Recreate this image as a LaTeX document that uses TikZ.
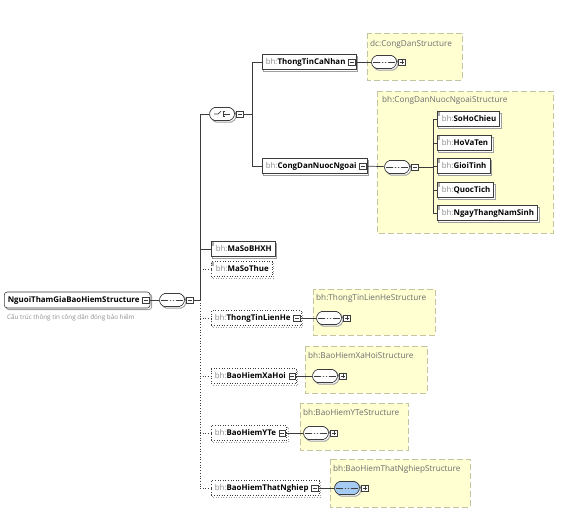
\documentclass[tikz,border=0pt]{standalone}
\usepackage{fontspec}
\setmainfont{Open Sans}
\usetikzlibrary{positioning,shadows,shapes.misc}

\definecolor{typefill}{HTML}{FFFFD2}
\definecolor{typeline}{HTML}{C4C4A0}
\definecolor{pfxgray}{HTML}{8C8C8C}
\definecolor{labelgray}{HTML}{6E6E6E}
\definecolor{wire}{HTML}{3C3C3C}
\definecolor{seqblue}{HTML}{A6CBF2}

\newcommand{\ename}[1]{\textcolor{pfxgray}{bh:}\textbf{#1}}

\tikzset{
  wire/.style={draw=wire, line width=0.7pt},
  boxshadow/.style={general shadow={shadow xshift=1.6pt, shadow yshift=-1.6pt, draw=gray!75, fill=white, line width=0.9pt}},
  elem/.style={draw=wire, fill=white, line width=0.6pt, boxshadow, anchor=west,
    font=\fontsize{7.9}{9}\selectfont, inner xsep=3.5pt, inner ysep=0pt,
    text height=6.2pt, text depth=1.7pt, minimum height=15pt},
  optelem/.style={elem, dotted},
  xelem/.style={elem, execute at end node={\hspace{7pt}}},
  optxelem/.style={xelem, dotted},
  leaf/.style={elem, execute at begin node={\hspace{1pt}},
    path picture={\fill[gray!65] (path picture bounding box.north west) rectangle ++(3pt,-4pt);}},
  optleaf/.style={leaf, dotted},
  rootbox/.style={elem, rounded corners=3pt, minimum height=16pt, execute at end node={\hspace{7pt}}},
  caption/.style={anchor=west, text=pfxgray, font=\fontsize{6.3}{7}\selectfont, inner sep=0pt},
  typebox/.style={draw=typeline, fill=typefill, line width=0.9pt, dash pattern=on 6pt off 3pt},
  typelabel/.style={anchor=west, text=labelgray, font=\fontsize{8.2}{9}\selectfont, inner sep=0pt},
  compo/.style={rounded rectangle, rounded rectangle arc length=150, draw=wire, fill=white, line width=0.7pt, boxshadow,
    minimum width=25pt, minimum height=13pt, inner sep=0pt},
  seqbox/.style={compo,
    path picture={
      \draw[line width=0.8pt] ([xshift=2.5pt]path picture bounding box.west) -- ([xshift=-2.5pt]path picture bounding box.east);
      \foreach \d in {-3,0,3} \fill ([xshift=\d pt]path picture bounding box.center) circle (1.25pt);}},
  chcbox/.style={compo,
    path picture={
      \coordinate (cc) at (path picture bounding box.center);
      \draw[line width=0.7pt] ([xshift=-8pt]cc) -- ([xshift=-4pt]cc) -- ([xshift=-1pt,yshift=2.8pt]cc);
      \draw[line width=0.6pt] ([xshift=0.8pt,yshift=3.2pt]cc) -- ([xshift=0.8pt,yshift=-3.2pt]cc);
      \foreach \d in {-2.6,0,2.6} \draw[line width=0.6pt] ([xshift=0.8pt,yshift=\d pt]cc) -- ++(2.6pt,0);
      \draw[line width=0.7pt] ([xshift=3.4pt]cc) -- ([xshift=8pt]cc);}},
  tgl/.style={draw=wire, fill=white, line width=0.5pt, minimum size=6.5pt, inner sep=0pt},
  mbox/.style={tgl, path picture={\draw[line width=0.5pt] ([xshift=1.3pt]path picture bounding box.west) -- ([xshift=-1.3pt]path picture bounding box.east);}},
  pbox/.style={tgl, path picture={
      \draw[line width=0.5pt] ([xshift=1.3pt]path picture bounding box.west) -- ([xshift=-1.3pt]path picture bounding box.east);
      \draw[line width=0.5pt] ([yshift=-1.3pt]path picture bounding box.north) -- ([yshift=1.3pt]path picture bounding box.south);}}
}

\begin{document}
\begin{tikzpicture}[x=1pt, y=-1pt]
  \useasboundingbox (0,0) rectangle (564,531);

  % complex type boxes
  \draw[typebox] (367,33) rectangle (462,80);
  \node[typelabel] (tCongDan) at (370,44) {dc:CongDanStructure};
  \draw[typebox] (377,91) rectangle (553,233);
  \node[typelabel] (tNuocNgoai) at (382,100) {bh:CongDanNuocNgoaiStructure};
  \draw[typebox] (313,289) rectangle (435,335);
  \node[typelabel] (tLienHe) at (316,298) {bh:ThongTinLienHeStructure};
  \draw[typebox] (305,346) rectangle (427,393);
  \node[typelabel] (tXaHoi) at (308,355) {bh:BaoHiemXaHoiStructure};
  \draw[typebox] (300,403) rectangle (408,450);
  \node[typelabel] (tYTe) at (303,412) {bh:BaoHiemYTeStructure};
  \draw[typebox] (330,459) rectangle (470,507);
  \node[typelabel] (tThatNghiep) at (333,469) {bh:BaoHiemThatNghiepStructure};

  % root
  \node[rootbox] (root) at (4,300) {\textbf{NguoiThamGiaBaoHiemStructure}};
  \node[mbox] (rootm) at ([xshift=-4.5pt]root.east) {};
  \node[caption] (rootcap) at (7,318) {Cấu trúc thông tin công dân đóng bảo hiểm};
  \node[seqbox] (seq) at (172,300) {};
  \node[mbox, right=1.5pt of seq] (seqm) {};
  \coordinate (bus) at (200,300);

  % choice branch
  \node[chcbox] (choice) at (222,114) {};
  \node[mbox, right=1.5pt of choice] (choicem) {};
  \coordinate (chbus) at (252,114);
  \node[xelem] (cn) at (262,62) {\ename{ThongTinCaNhan}};
  \node[mbox] (cnm) at ([xshift=-4.5pt]cn.east) {};
  \node[seqbox] (cnseq) at (384,62) {};
  \node[pbox, right=1.5pt of cnseq] (cnp) {};
  \node[xelem] (nn) at (262,166) {\ename{CongDanNuocNgoai}};
  \node[mbox] (nnm) at ([xshift=-4.5pt]nn.east) {};
  \node[seqbox] (nnseq) at (397,167) {};
  \node[mbox, right=1.5pt of nnseq] (nnseqm) {};
  \coordinate (nnbus) at (433,167);
  \foreach \n/\y in {SoHoChieu/119, HoVaTen/143, GioiTinh/166, QuocTich/190, NgayThangNamSinh/213}
    \node[leaf] (\n) at (437,\y) {\ename{\n}};

  % simple children
  \node[leaf] (bhxh) at (211,249) {\ename{MaSoBHXH}};
  \node[optleaf] (thue) at (211,269) {\ename{MaSoThue}};

  % optional complex children
  \node[optxelem] (lh) at (211,318) {\ename{ThongTinLienHe}};
  \node[mbox] (lhm) at ([xshift=-4.5pt]lh.east) {};
  \node[seqbox] (lhseq) at (329,318) {};
  \node[pbox, right=1.5pt of lhseq] (lhp) {};
  \node[optxelem] (xh) at (211,376) {\ename{BaoHiemXaHoi}};
  \node[mbox] (xhm) at ([xshift=-4.5pt]xh.east) {};
  \node[seqbox] (xhseq) at (325,376) {};
  \node[pbox, right=1.5pt of xhseq] (xhp) {};
  \node[optxelem] (yt) at (211,433) {\ename{BaoHiemYTe}};
  \node[mbox] (ytm) at ([xshift=-4.5pt]yt.east) {};
  \node[seqbox] (ytseq) at (316,433) {};
  \node[pbox, right=1.5pt of ytseq] (ytp) {};
  \node[optxelem] (tn) at (211,488) {\ename{BaoHiemThatNghiep}};
  \node[mbox] (tnm) at ([xshift=-4.5pt]tn.east) {};
  \node[seqbox, fill=seqblue] (tnseq) at (347,488) {};
  \node[pbox, right=1.5pt of tnseq] (tnp) {};

  % connectors
  \draw[wire] (rootm) -- (seq);
  \draw[wire] (seq) -- (seqm);
  \draw[wire] (seqm) -- (bus);
  \draw[wire] (bus |- choice) -- (bus);
  \draw[wire, dotted] (bus) -- (bus |- tn);
  \draw[wire] (bus |- choice) -- (choice);
  \draw[wire] (bus |- bhxh) -- (bhxh.west);
  \foreach \e in {thue, lh, xh, yt, tn}
    \draw[wire, dotted] (bus |- \e) -- (\e.west);

  \draw[wire] (choice) -- (choicem);
  \draw[wire] (choicem) -- (chbus);
  \draw[wire] (chbus |- cn) -- (chbus |- nn);
  \draw[wire] (chbus |- cn) -- (cn.west);
  \draw[wire] (chbus |- nn) -- (nn.west);
  \draw[wire] (cnm) -- (cnseq);
  \draw[wire] (cnseq) -- (cnp);
  \draw[wire] (nnm) -- (nnseq);
  \draw[wire] (nnseq) -- (nnseqm);
  \draw[wire] (nnseqm) -- (nnbus);
  \draw[wire] (nnbus |- SoHoChieu) -- (nnbus |- NgayThangNamSinh);
  \foreach \n in {SoHoChieu, HoVaTen, GioiTinh, QuocTich, NgayThangNamSinh}
    \draw[wire] (nnbus |- \n) -- (\n.west);

  \draw[wire] (lhm) -- (lhseq);
  \draw[wire] (lhseq) -- (lhp);
  \draw[wire] (xhm) -- (xhseq);
  \draw[wire] (xhseq) -- (xhp);
  \draw[wire] (ytm) -- (ytseq);
  \draw[wire] (ytseq) -- (ytp);
  \draw[wire] (tnm) -- (tnseq);
  \draw[wire] (tnseq) -- (tnp);
\end{tikzpicture}
\end{document}
